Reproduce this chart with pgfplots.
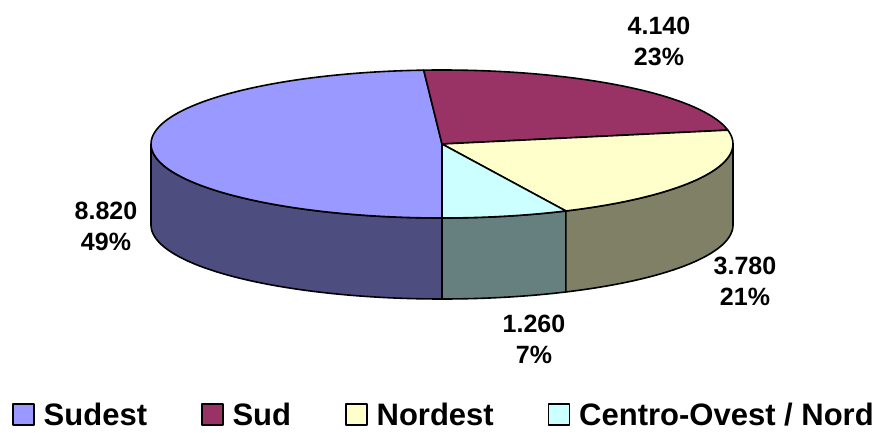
\documentclass[border=0pt]{standalone}
\usepackage{pgfplots}
\pgfplotsset{compat=1.18}
\usepackage{fontspec}
\setmainfont{Liberation Sans}
\definecolor{sudestT}{HTML}{9999FF}
\definecolor{sudestS}{HTML}{4D4D80}
\definecolor{sudT}{HTML}{993366}
\definecolor{nordestT}{HTML}{FFFFCC}
\definecolor{nordestS}{HTML}{808066}
\definecolor{centroT}{HTML}{CCFFFF}
\definecolor{centroS}{HTML}{668080}
\begin{document}
\begin{tikzpicture}
\useasboundingbox (0,0) rectangle (881pt,432pt);
% data values
\def\vA{8820}\def\vB{4140}\def\vC{3780}\def\vD{1260}
\pgfmathsetmacro\tot{\vA/1000+\vB/1000+\vC/1000+\vD/1000}
\pgfmathsetmacro\aA{270-\vA/1000/\tot*360}
\pgfmathsetmacro\aB{\aA-\vB/1000/\tot*360}
\pgfmathsetmacro\aC{\aB-\vC/1000/\tot*360}
\pgfmathsetmacro\aD{\aC-\vD/1000/\tot*360}
\pgfmathsetmacro\aCw{\aC+360}
\pgfmathsetmacro\xC{442+291*cos(\aC)}
\pgfmathsetmacro\yC{288+74*sin(\aC)}
\begin{axis}[
  at={(0,0)}, anchor=south west,
  width=881pt, height=432pt, scale only axis,
  xmin=0, xmax=881, ymin=0, ymax=432,
  hide axis, clip=false,
  legend columns=-1,
  legend style={at={(axis cs:444,17)}, anchor=center, draw=none, fill=none,
    inner sep=0pt,
    font=\fontsize{31}{36}\selectfont\bfseries,
    /tikz/every odd column/.append style={column sep=7pt},
    /tikz/every even column/.append style={column sep=52pt}},
  legend image code/.code={\draw[#1, draw=black, line width=1.5pt] (0pt,-10pt) rectangle (21pt,11pt);},
  every axis plot/.append style={line width=1.6pt, line join=round, draw=black},
]
% visible sides
\addplot[fill=sudestS, domain=180:270, samples=60, variable=\t, forget plot]
  ({442+291*cos(\t)},{207+74*sin(\t)}) -- (442,214) arc[start angle=270, end angle=180, x radius=291, y radius=74] -- cycle;
\addplot[fill=centroS, domain=270:\aCw, samples=30, variable=\t, forget plot]
  ({442+291*cos(\t)},{207+74*sin(\t)}) -- (\xC,\yC) arc[start angle=\aCw, end angle=270, x radius=291, y radius=74] -- cycle;
\addplot[fill=nordestS, domain=\aCw:360, samples=50, variable=\t, forget plot]
  ({442+291*cos(\t)},{207+74*sin(\t)}) -- (733,288) arc[start angle=360, end angle=\aCw, x radius=291, y radius=74] -- cycle;
% top faces
\addplot[fill=sudestT, domain=\aA:270, samples=90, variable=\t]
  ({442+291*cos(\t)},{288+74*sin(\t)}) -- (442,288) -- cycle;
\addlegendentry{Sudest}
\addplot[fill=sudT, domain=\aB:\aA, samples=50, variable=\t]
  ({442+291*cos(\t)},{288+74*sin(\t)}) -- (442,288) -- cycle;
\addlegendentry{Sud}
\addplot[fill=nordestT, domain=\aC:\aB, samples=50, variable=\t]
  ({442+291*cos(\t)},{288+74*sin(\t)}) -- (442,288) -- cycle;
\addlegendentry{Nordest}
\addplot[fill=centroT, domain=\aD:\aC, samples=30, variable=\t]
  ({442+291*cos(\t)},{288+74*sin(\t)}) -- (442,288) -- cycle;
\addlegendentry{Centro-Ovest / Nord}
% data labels
\node[font=\fontsize{25}{31}\selectfont\bfseries, align=center] at (axis cs:659,391) {4.140\\23\%};
\node[font=\fontsize{25}{31}\selectfont\bfseries, align=center] at (axis cs:106,206) {8.820\\49\%};
\node[font=\fontsize{25}{31}\selectfont\bfseries, align=center] at (axis cs:745,151) {3.780\\21\%};
\node[font=\fontsize{25}{31}\selectfont\bfseries, align=center] at (axis cs:534,93) {1.260\\7\%};
\end{axis}
\end{tikzpicture}
\end{document}
